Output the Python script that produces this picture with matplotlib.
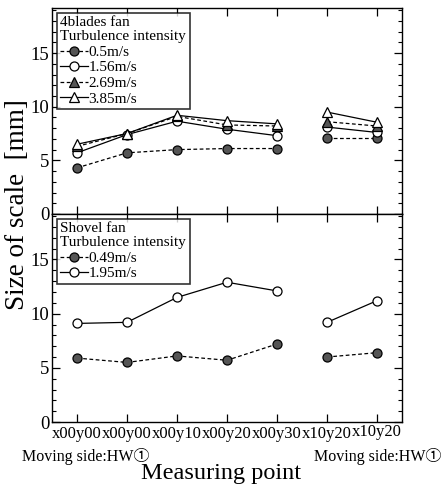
import numpy as np
import matplotlib
matplotlib.use("Agg")
import matplotlib.pyplot as plt
from matplotlib.ticker import MultipleLocator

plt.rcParams['font.family'] = ['Liberation Serif', 'Noto Sans CJK JP', 'DejaVu Serif']

tick_labels = ["x00y00", "x00y00", "x00y10", "x00y20", "x00y30", "x10y20", "x10y20"]
groups = [[0, 1, 2, 3, 4], [5, 6]]

# 4 blades fan
blades_labels = ["0.5m/s", "1.56m/s", "2.69m/s", "3.85m/s"]
blades_v05 = [4.3, 5.7, 6.0, 6.1, 6.1, 7.1, 7.1]
blades_v156 = [5.7, 7.4, 8.65, 7.9, 7.3, 8.1, 7.6]
blades_v269 = [6.3, 7.5, 9.1, 8.3, 8.2, 8.6, 8.2]
blades_v385 = [6.5, 7.5, 9.2, 8.7, 8.4, 9.5, 8.55]

# Shovel fan
shovel_labels = ["0.49m/s", "1.95m/s"]
shovel_v049 = [5.9, 5.5, 6.1, 5.7, 7.2, 6.0, 6.4]
shovel_v195 = [9.1, 9.2, 11.5, 12.9, 12.1, 9.2, 11.2]

fig = plt.figure(figsize=(4.42, 4.88), dpi=100)
ax1 = fig.add_axes([0.1176, 0.5615, 0.792, 0.4221])
ax2 = fig.add_axes([0.1176, 0.1352, 0.792, 0.4263])

gray = '#555555'
styles_top = [
    dict(marker='o', mfc=gray, mec='black', ls='--'),
    dict(marker='o', mfc='white', mec='black', ls='-'),
    dict(marker='^', mfc=gray, mec='black', ls='--'),
    dict(marker='^', mfc='white', mec='black', ls='-'),
]
styles_bot = [
    dict(marker='o', mfc=gray, mec='black', ls='--'),
    dict(marker='o', mfc='white', mec='black', ls='-'),
]

xpos = np.arange(len(tick_labels)) + 0.5


def draw(ax, series, labels, styles):
    handles = []
    for vals, lab, st in zip(series, labels, styles):
        h = None
        for g in groups:
            xs = [xpos[i] for i in g]
            ys = [vals[i] for i in g]
            line, = ax.plot(xs, ys, color='black', lw=0.9, ms=6.5, mew=0.9,
                            marker=st['marker'], mfc=st['mfc'], mec=st['mec'],
                            linestyle=st['ls'])
            if st['ls'] == '--':
                line.set_dashes((3, 2))
            if h is None:
                h = line
        handles.append(h)
    return handles


h1 = draw(ax1, [blades_v05, blades_v156, blades_v269, blades_v385], blades_labels, styles_top)
h2 = draw(ax2, [shovel_v049, shovel_v195], shovel_labels, styles_bot)

for ax in (ax1, ax2):
    ax.set_xlim(0, 7)
    ax.set_ylim(0, 19.2)
    ax.set_xticks(xpos)
    ax.yaxis.set_major_locator(MultipleLocator(5))
    ax.yaxis.set_minor_locator(MultipleLocator(1))
    ax.tick_params(axis='both', which='both', direction='in', top=True, right=True)
    ax.tick_params(axis='both', which='major', length=6, width=0.9, labelsize=13.5)
    ax.tick_params(axis='y', which='minor', length=3, width=0.8)
    ax.tick_params(axis='y', pad=2)
    for s in ax.spines.values():
        s.set_linewidth(1.0)

ax1.set_xticklabels([])
ax2.set_xticklabels(tick_labels, fontsize=12)
ax2.tick_params(axis='x', pad=3)
lbls = ax2.get_xticklabels()
lbls[-1].set_y(0.012)

leg_kw = dict(loc='upper left', fontsize=11, title_fontsize=11, frameon=True,
              fancybox=False, edgecolor='black', handlelength=1.8, handletextpad=0.05,
              labelspacing=0.12, borderpad=0.25, borderaxespad=0.3, alignment='left')
l1 = ax1.legend(h1, blades_labels, title="4blades fan\nTurbulence intensity", **leg_kw)
l2 = ax2.legend(h2, shovel_labels, title="Shovel fan\nTurbulence intensity", **leg_kw)
for l in (l1, l2):
    l.get_frame().set_linewidth(1.2)
    l.get_title().set_linespacing(1.1)

fig.text(0.04, 0.58, "Size of scale  [mm]", rotation=90, va='center', ha='center', fontsize=19.5)
fig.text(0.5, 0.029, "Measuring point", ha='center', va='center', fontsize=17.5)
fig.text(0.05, 0.064, "Moving side:HW\u2460", ha='left', va='center', fontsize=11.5)
fig.text(0.998, 0.064, "Moving side:HW\u2460", ha='right', va='center', fontsize=11.5)

fig.savefig("out.png", dpi=100)
